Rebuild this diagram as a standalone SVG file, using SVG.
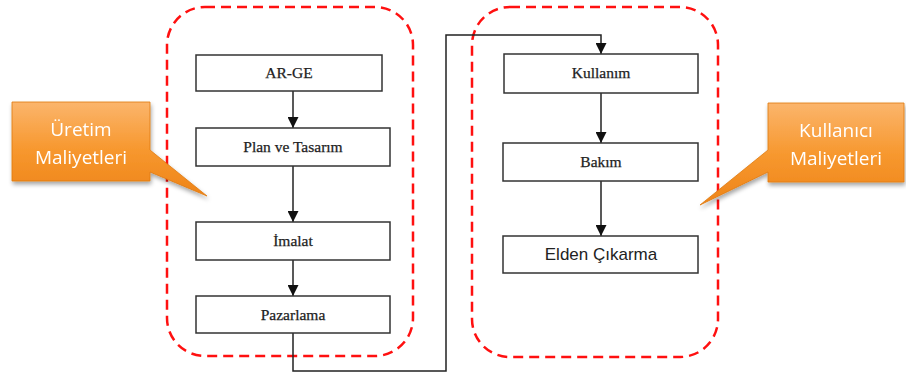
<svg xmlns="http://www.w3.org/2000/svg" width="906" height="373" viewBox="0 0 906 373">
<defs>
<linearGradient id="og" x1="0" y1="0" x2="0" y2="1">
<stop offset="0" stop-color="#fbb56c"/>
<stop offset="0.5" stop-color="#f7982f"/>
<stop offset="1" stop-color="#ee8418"/>
</linearGradient>
<filter id="sh" x="-20%" y="-20%" width="140%" height="150%">
<feDropShadow dx="1" dy="3" stdDeviation="2" flood-color="#000" flood-opacity="0.35"/>
</filter>
<marker id="ah" viewBox="0 0 10 10" refX="10" refY="5" markerWidth="11" markerHeight="11" markerUnits="userSpaceOnUse" orient="auto">
<path d="M0,0 L10,5 L0,10 z" fill="#111"/>
</marker>
<style>
.grp{fill:none;stroke:#ff1010;stroke-width:2.5;stroke-dasharray:10 6}
.box{fill:#fff;stroke:#333;stroke-width:1.5}
.st{font-family:"Liberation Serif",serif;font-size:15.5px;fill:#222;text-anchor:middle;stroke:#222;stroke-width:0.25}
.ss{font-family:"Liberation Sans",sans-serif;font-size:17px;fill:#222;text-anchor:middle}
.co{font-family:"Open Sans","Liberation Sans",sans-serif;font-size:19px;fill:#fff;text-anchor:middle}
.cn{fill:none;stroke:#222;stroke-width:1.5}
</style>
</defs>
<g id="group-uretim"><rect class="grp" x="167" y="7" width="246" height="349" rx="38"/></g>
<g id="group-kullanici"><rect class="grp" x="472" y="7" width="246" height="350" rx="38"/></g>
<g id="connectors">
<path class="cn" d="M293,91 L293,128" marker-end="url(#ah)"/>
<path class="cn" d="M293,166 L293,222" marker-end="url(#ah)"/>
<path class="cn" d="M293,260 L293,296" marker-end="url(#ah)"/>
<path class="cn" d="M293,333 L293,371 L446,371 L446,35 L601,35 L601,54" marker-end="url(#ah)"/>
<path class="cn" d="M601,93 L601,143" marker-end="url(#ah)"/>
<path class="cn" d="M601,181 L601,236" marker-end="url(#ah)"/>
</g>
<g id="n-arge"><rect class="box" x="196" y="55" width="186" height="36"/><text class="st" x="289" y="78">AR-GE</text></g>
<g id="n-plan"><rect class="box" x="196" y="128" width="194" height="38"/><text class="st" x="293" y="152">Plan ve Tasarım</text></g>
<g id="n-imalat"><rect class="box" x="196" y="222" width="194" height="38"/><text class="st" x="293" y="246">İmalat</text></g>
<g id="n-pazarlama"><rect class="box" x="196" y="296" width="194" height="37"/><text class="st" x="293" y="320">Pazarlama</text></g>
<g id="n-kullanim"><rect class="box" x="504" y="54" width="194" height="39"/><text class="st" x="601" y="78">Kullanım</text></g>
<g id="n-bakim"><rect class="box" x="503" y="143" width="195" height="38"/><text class="st" x="601" y="167">Bakım</text></g>
<g id="n-elden"><rect class="box" x="503" y="236" width="195" height="37"/><text class="ss" x="601" y="260">Elden Çıkarma</text></g>
<g id="callout-uretim" filter="url(#sh)">
<path d="M12,102 L150,102 L150,150 L207,196 L150,172 L150,181 L12,181 Z" fill="url(#og)" stroke="#e07a10" stroke-width="0.8"/>
<text class="co" x="81" y="136">Üretim</text>
<text class="co" x="81" y="164">Maliyetleri</text>
</g>
<g id="callout-kullanici" filter="url(#sh)">
<path d="M768,103 L904,103 L904,182 L768,182 L768,172 L700,205 L768,150 Z" fill="url(#og)" stroke="#e07a10" stroke-width="0.8"/>
<text class="co" x="836" y="137">Kullanıcı</text>
<text class="co" x="836" y="165">Maliyetleri</text>
</g>
</svg>
